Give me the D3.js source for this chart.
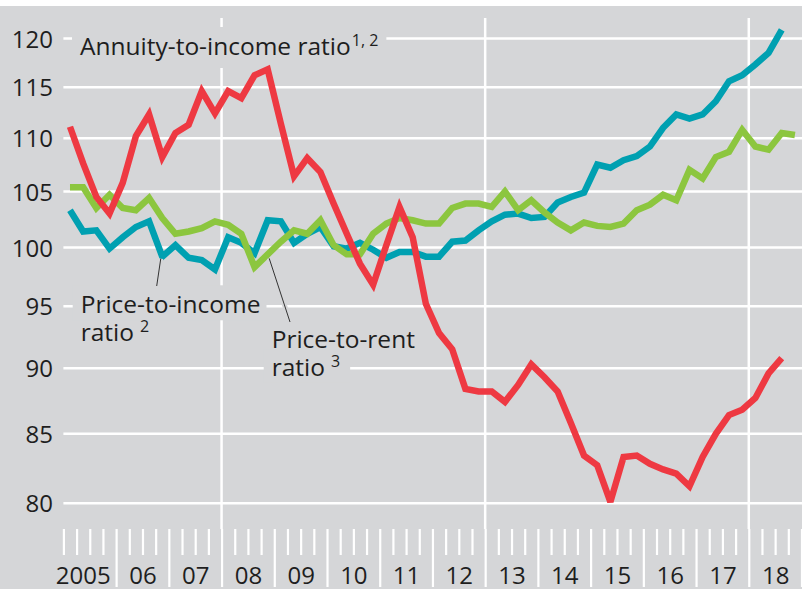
<!DOCTYPE html>
<html>
<head>
<meta charset="utf-8">
<script src="https://cdn.jsdelivr.net/npm/d3@7"></script>
<style>
  body { margin: 0; background: #fff; }
  svg text { font-family: "Open Sans", sans-serif; fill: #1e1e1e; }
</style>
</head>
<body>
<svg width="802" height="589"></svg>
<script>
// quarterly series, 2005 Q1 onwards
const startYear = 2005;
const annuityToIncome = [111.1, 107.6, 104.5, 103.0, 105.8, 110.2, 112.3, 108.2, 110.5, 111.3,
  114.6, 112.4, 114.6, 113.9, 116.2, 116.8, 111.4, 106.4, 108.1, 106.8,
  103.9, 101.2, 98.6, 96.8, 100.2, 103.6, 100.9, 95.2, 92.8, 91.5,
  88.4, 88.2, 88.2, 87.4, 88.7, 90.3, 89.3, 88.2, 85.8, 83.4,
  82.7, 80.1, 83.3, 83.4, 82.8, 82.4, 82.1, 81.2, 83.3, 85.0,
  86.4, 86.8, 87.7, 89.6, 90.8];
const priceToIncome = [103.3, 101.4, 101.5, 99.9, 100.9, 101.8, 102.3, 99.2, 100.2, 99.1,
  98.9, 98.1, 100.9, 100.4, 99.5, 102.4, 102.3, 100.4, 101.2, 101.8,
  100.1, 99.9, 100.4, 99.8, 99.1, 99.6, 99.6, 99.2, 99.2, 100.5,
  100.6, 101.5, 102.3, 102.9, 103.0, 102.6, 102.7, 104.0, 104.5, 104.9,
  107.5, 107.2, 107.9, 108.3, 109.2, 111.0, 112.3, 111.9, 112.3, 113.6,
  115.6, 116.2, 117.3, 118.5, 120.9];
const priceToRent = [105.4, 105.4, 103.5, 104.7, 103.5, 103.3, 104.4, 102.6, 101.2, 101.4,
  101.7, 102.3, 102.0, 101.2, 98.3, 99.4, 100.5, 101.5, 101.2, 102.4,
  100.2, 99.4, 99.4, 101.2, 102.1, 102.6, 102.4, 102.1, 102.1, 103.5,
  103.9, 103.9, 103.6, 105.0, 103.3, 104.2, 103.1, 102.2, 101.5, 102.2,
  101.9, 101.8, 102.1, 103.3, 103.8, 104.7, 104.2, 107.0, 106.2, 108.2,
  108.7, 110.8, 109.2, 108.9, 110.5, 110.3];

const yTicks = [80, 85, 90, 95, 100, 105, 110, 115, 120];
const yearLabels = ["2005", "06", "07", "08", "09", "10", "11", "12", "13", "14", "15", "16", "17", "18"];
const bigGridYears = [2008, 2013, 2018];

const svg = d3.select("svg");
const W = 802, H = 589;
const bg = "#d5d6d8";

const x = d3.scaleLinear().domain([2005, 2019]).range([63.4, 801.5]);
const y = d3.scaleLog().domain([80, 120]).range([503.3, 38.4]);
const xq = i => x(startYear + (i + 0.5) / 4);

// layers, bottom to top
svg.append("rect").attr("x", 0).attr("y", 6).attr("width", W).attr("height", H - 6).attr("fill", bg);
const gridG = svg.append("g");
const axisG = svg.append("g");
const boxG = svg.append("g");
const lineG = svg.append("g");
const leadG = svg.append("g");
const textG = svg.append("g");

// horizontal grid
gridG.append("g").selectAll("line")
  .data(yTicks)
  .enter().append("line")
  .attr("x1", x(2005)).attr("x2", W)
  .attr("y1", d => y(d)).attr("y2", d => y(d))
  .attr("stroke", "#fff").attr("stroke-width", 2.5);

// vertical grid at 2008, 2013, 2018
gridG.append("g").selectAll("line")
  .data(bigGridYears)
  .enter().append("line")
  .attr("x1", d => x(d)).attr("x2", d => x(d))
  .attr("y1", 18).attr("y2", 529)
  .attr("stroke", "#fff").attr("stroke-width", 2.5);

// y axis labels
const yAxis = axisG.append("g")
  .attr("transform", `translate(${x(2005)},0)`)
  .call(d3.axisLeft(y).tickValues(yTicks).tickSize(0).tickPadding(10.5).tickFormat(d3.format("d")));
yAxis.select(".domain").remove();
yAxis.selectAll("text")
  .attr("dy", "0.36em")
  .style("font-size", "24px")
  .attr("fill", "#1e1e1e");

// x axis: quarter ticks, longer ticks at year boundaries
const qTicks = d3.range(0, 57).map(k => startYear + k / 4);
const xAxis = axisG.append("g")
  .attr("transform", "translate(0,529)")
  .call(d3.axisBottom(x).tickValues(qTicks).tickSize(26).tickFormat(""));
xAxis.select(".domain").remove();
xAxis.selectAll(".tick line")
  .attr("stroke", "#fff").attr("stroke-width", 2.2)
  .attr("y2", d => (Number.isInteger(d) && d > startYear) ? 58 : 26);

const xLab = axisG.append("g")
  .attr("transform", "translate(0,529)")
  .call(d3.axisBottom(x).tickValues(d3.range(2005, 2019).map(v => v + 0.5)).tickSize(0)
    .tickFormat((d, i) => yearLabels[i]));
xLab.select(".domain").remove();
xLab.selectAll("text")
  .attr("y", 55).attr("dy", 0)
  .style("font-size", "24px")
  .attr("fill", "#1e1e1e");
xLab.select(".tick text").attr("text-anchor", "end").attr("x", x(2006) - 6 - x(2005.5));

// annotation labels, with grey boxes that cut the grid
function label(tx, ty, main, sup, gap) {
  const t = textG.append("text")
    .attr("x", tx).attr("y", ty)
    .style("font-size", "24.5px");
  t.append("tspan").text(main);
  if (sup) {
    t.append("tspan").attr("dx", gap).attr("dy", -9).style("font-size", "16px").text(sup);
  }
  return t;
}
function box(t, padL, padR, padT, padB) {
  const b = t.node().getBBox();
  boxG.append("rect")
    .attr("x", b.x - padL).attr("y", b.y - padT)
    .attr("width", b.width + padL + padR).attr("height", b.height + padT + padB)
    .attr("fill", bg);
}

const lAnn = label(80, 55, "Annuity-to-income ratio", "1, 2", 1);
box(lAnn, 8, 8, 2, 6);
const lPi1 = label(80.7, 313.3, "Price-to-income");
box(lPi1, 8, 6, 2, 0);
label(80.7, 340.7, "ratio", "2", 6);
label(271.7, 348.3, "Price-to-rent");
const lPr2 = label(271.7, 375.7, "ratio", "3", 6);
box(lPr2, 8, 10, 0, 0);

// series
const line = d3.line().x((d, i) => xq(i)).y(d => y(d));
const series = [
  { values: priceToIncome, color: "#00a0b1" },
  { values: priceToRent, color: "#8cc63f" },
  { values: annuityToIncome, color: "#ee3942" }
];
lineG.selectAll("path")
  .data(series)
  .enter().append("path")
  .attr("d", d => line(d.values))
  .attr("fill", "none")
  .attr("stroke", d => d.color)
  .attr("stroke-width", 6.5)
  .attr("stroke-linejoin", "miter")
  .attr("stroke-miterlimit", 3);

// leader lines
const leaders = [
  [[xq(7) - 1.5, y(priceToIncome[7]) + 2], [156.7, 286]],
  [[xq(15) + 1.5, y(priceToRent[15]) + 4], [290, 322]]
];
leaders.forEach(p => {
  leadG.append("line").attr("x1", p[0][0]).attr("y1", p[0][1]).attr("x2", p[1][0]).attr("y2", p[1][1])
    .attr("stroke", bg).attr("stroke-width", 5);
  leadG.append("line").attr("x1", p[0][0]).attr("y1", p[0][1]).attr("x2", p[1][0]).attr("y2", p[1][1])
    .attr("stroke", "#333").attr("stroke-width", 1);
});
</script>
</body>
</html>
